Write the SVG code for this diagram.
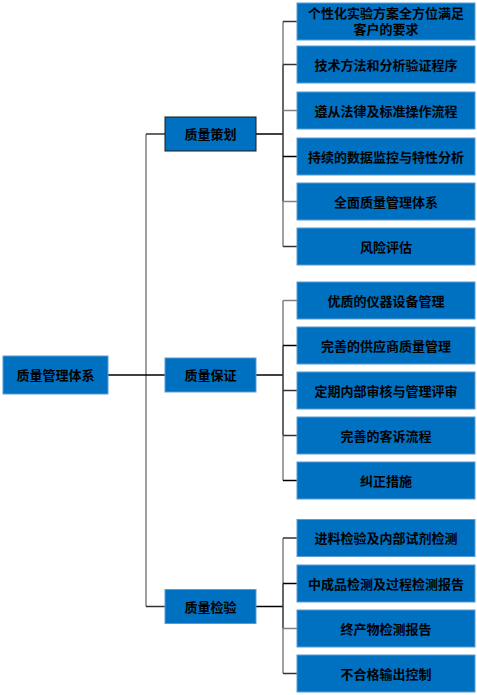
<svg xmlns="http://www.w3.org/2000/svg" width="477" height="695" viewBox="0 0 477 695">
<style>
.box{fill:#0070C0;stroke:#5B9BD5;stroke-width:1}
.dk{stroke:#1a1a1a}
text{font-family:"Noto Sans CJK SC","Noto Sans",sans-serif;font-weight:bold;font-size:13px;fill:#000;text-anchor:middle}
.g{stroke:#808080;stroke-width:1.5;fill:none}
.d{stroke:#333333;stroke-width:1.5;fill:none}
.k{stroke:#000000;stroke-width:1.5;fill:none}
</style>
<rect width="477" height="695" fill="#ffffff"/>
<g id="connectors">
<line class="g" x1="146" y1="134" x2="146" y2="606.5"/>
<line class="k" x1="108" y1="375" x2="146" y2="375"/>
<line class="d" x1="146" y1="134" x2="165" y2="134"/>
<line class="k" x1="146" y1="375" x2="165" y2="375"/>
<line class="d" x1="146" y1="606.5" x2="165" y2="606.5"/>
<line class="k" x1="256" y1="134" x2="283" y2="134"/>
<line class="g" x1="283" y1="21.5" x2="283" y2="64.5"/>
<line class="d" x1="283" y1="64.5" x2="283" y2="201.5"/>
<line class="g" x1="283" y1="201.5" x2="283" y2="246.5"/>
<line class="d" x1="283" y1="21.5" x2="297" y2="21.5"/>
<line class="d" x1="283" y1="64.5" x2="297" y2="64.5"/>
<line class="g" x1="283" y1="110.5" x2="297" y2="110.5"/>
<line class="k" x1="283" y1="156.5" x2="297" y2="156.5"/>
<line class="g" x1="283" y1="201.5" x2="297" y2="201.5"/>
<line class="d" x1="283" y1="246.5" x2="297" y2="246.5"/>
<line class="k" x1="256" y1="375" x2="283" y2="375"/>
<line class="g" x1="283" y1="300.5" x2="283" y2="345.5"/>
<line class="d" x1="283" y1="345.5" x2="283" y2="435.5"/>
<line class="g" x1="283" y1="435.5" x2="283" y2="480.5"/>
<line class="g" x1="283" y1="300.5" x2="297" y2="300.5"/>
<line class="k" x1="283" y1="345.5" x2="297" y2="345.5"/>
<line class="d" x1="283" y1="390.5" x2="297" y2="390.5"/>
<line class="d" x1="283" y1="435.5" x2="297" y2="435.5"/>
<line class="k" x1="283" y1="480.5" x2="297" y2="480.5"/>
<line class="k" x1="256" y1="606.5" x2="283" y2="606.5"/>
<line class="g" x1="283" y1="538" x2="283" y2="583.5"/>
<line class="d" x1="283" y1="583.5" x2="283" y2="628.5"/>
<line class="g" x1="283" y1="628.5" x2="283" y2="673.5"/>
<line class="d" x1="283" y1="538" x2="297" y2="538"/>
<line class="k" x1="283" y1="583.5" x2="297" y2="583.5"/>
<line class="g" x1="283" y1="628.5" x2="297" y2="628.5"/>
<line class="d" x1="283" y1="673.5" x2="297" y2="673.5"/>
</g>
<g id="root"><rect class="box" x="3" y="356" width="105" height="38"/><text x="55.5" y="380">质量管理体系</text></g>
<g id="n-plan"><rect class="box dk" x="165" y="117" width="91" height="34"/><text x="210.5" y="139">质量策划</text></g>
<g id="n-assure"><rect class="box" x="165" y="358" width="91" height="34"/><text x="210.5" y="380">质量保证</text></g>
<g id="n-inspect"><rect class="box" x="165" y="589.5" width="91" height="34"/><text x="210.5" y="611.5">质量检验</text></g>
<g id="p1"><rect class="box" x="297" y="3" width="178" height="37"/><text x="386" y="17.5">个性化实验方案全方位满足</text><text x="386" y="34">客户的要求</text></g>
<g id="p2"><rect class="box" x="297" y="46" width="178" height="37"/><text x="386" y="69.5">技术方法和分析验证程序</text></g>
<g id="p3"><rect class="box" x="297" y="92" width="178" height="37"/><text x="386" y="115.5">遵从法律及标准操作流程</text></g>
<g id="p4"><rect class="box" x="297" y="138" width="178" height="37"/><text x="386" y="161.5">持续的数据监控与特性分析</text></g>
<g id="p5"><rect class="box" x="297" y="183" width="178" height="37"/><text x="386" y="206.5">全面质量管理体系</text></g>
<g id="p6"><rect class="box" x="297" y="228" width="178" height="37"/><text x="386" y="251.5">风险评估</text></g>
<g id="a1"><rect class="box" x="297" y="282" width="178" height="37"/><text x="386" y="305.5">优质的仪器设备管理</text></g>
<g id="a2"><rect class="box" x="297" y="327" width="178" height="37"/><text x="386" y="350.5">完善的供应商质量管理</text></g>
<g id="a3"><rect class="box" x="297" y="372" width="178" height="37"/><text x="386" y="395.5">定期内部审核与管理评审</text></g>
<g id="a4"><rect class="box" x="297" y="417" width="178" height="37"/><text x="386" y="440.5">完善的客诉流程</text></g>
<g id="a5"><rect class="box" x="297" y="462" width="178" height="37"/><text x="386" y="485.5">纠正措施</text></g>
<g id="i1"><rect class="box" x="297" y="519.5" width="178" height="37"/><text x="386" y="543">进料检验及内部试剂检测</text></g>
<g id="i2"><rect class="box" x="297" y="565" width="178" height="37"/><text x="386" y="588.5">中成品检测及过程检测报告</text></g>
<g id="i3"><rect class="box" x="297" y="610" width="178" height="37"/><text x="386" y="633.5">终产物检测报告</text></g>
<g id="i4"><rect class="box" x="297" y="655" width="178" height="37"/><text x="386" y="678.5">不合格输出控制</text></g>
</svg>
